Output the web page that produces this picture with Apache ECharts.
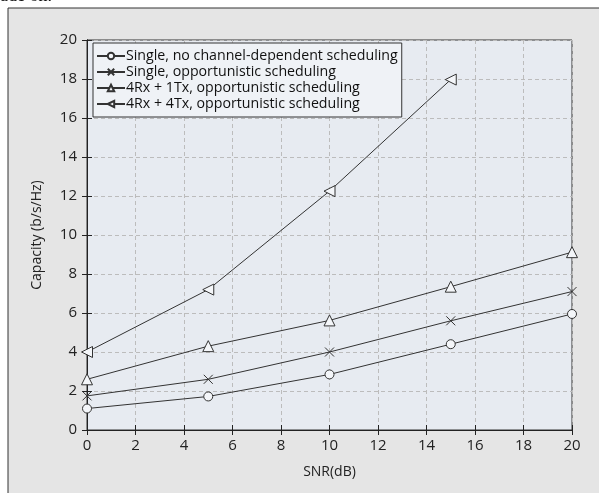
<!DOCTYPE html>
<html><head><meta charset="utf-8">
<script src="https://cdn.jsdelivr.net/npm/echarts@6/dist/echarts.min.js"></script>
<style>html,body{margin:0;padding:0;background:#fff;}#c{width:599px;height:493px;}</style>
</head><body><div id="c"></div>
<script>
const snr = [0, 5, 10, 15, 20];
const noSched = [1.1, 1.72, 2.85, 4.4, 5.95];
const singleOpp = [1.75, 2.6, 4.0, 5.6, 7.1];
const rx4tx1 = [2.6, 4.3, 5.62, 7.35, 9.12];
const rx4tx4 = [4.0, 7.2, 12.25, 17.97];
const names = ['Single, no channel-dependent scheduling','Single, opportunistic scheduling','4Rx + 1Tx, opportunistic scheduling','4Rx + 4Tx, opportunistic scheduling'];
const xTicks = [0,2,4,6,8,10,12,14,16,18,20];
const yTicks = [0,2,4,6,8,10,12,14,16,18,20];

const pairs = (ys) => ys.map((v, i) => [snr[i], v]);
const lineC = '#333';
const font = 'Open Sans';
const chart = echarts.init(document.getElementById('c'));
function mk(name, data, symbol, rot, size) {
  return {
    name, type: 'line', data, symbol, symbolSize: size, symbolRotate: rot || 0,
    showAllSymbol: true,
    lineStyle: {color: lineC, width: 1},
    itemStyle: {color: symbol.startsWith('path') ? lineC : '#f4f6f9', borderColor: lineC, borderWidth: 1},
    emphasis: {disabled: true}, z: 5
  };
}
chart.setOption({
  animation: false,
  backgroundColor: '#fff',
  graphic: [
    {type: 'rect', shape: {x: 8, y: 8, width: 700, height: 600}, style: {fill: '#e5e5e5', stroke: '#333', lineWidth: 1}, z: -10},
    {type: 'text', left: 0, top: -13, style: {text: 'ade on.', font: '18px "Liberation Serif"', fill: '#111'}}
  ],
  grid: {left: 87, right: 27, top: 40, bottom: 63, show: true, backgroundColor: '#e7ebf1', borderColor: '#333', borderWidth: 1},
  legend: {
    orient: 'vertical', left: 93, top: 43,
    data: names,
    backgroundColor: '#eff2f6', borderColor: '#333', borderWidth: 1,
    padding: [5, 4, 5, 3], itemGap: 0, itemWidth: 28, itemHeight: 8,
    textStyle: {fontFamily: font, fontSize: 14.2, color: '#111', lineHeight: 16, padding: [0,0,0,-4]},
    selectedMode: false
  },
  xAxis: [{
    type: 'value', min: 0, max: 20, interval: 2,
    name: 'SNR(dB)', nameLocation: 'middle', nameGap: 35,
    nameTextStyle: {fontFamily: font, fontSize: 14, color: '#222'},
    axisLine: {lineStyle: {color: '#222'}},
    axisTick: {inside: true, length: 5, lineStyle: {color: '#222'}},
    axisLabel: {fontFamily: font, fontSize: 15, color: '#222', margin: 8,
      formatter: v => xTicks.includes(v) ? String(v) : ''},
    splitLine: {lineStyle: {color: '#bcbcbc', type: [4, 3]}}
  }, {
    type: 'value', min: 0, max: 20, interval: 2, position: 'top',
    axisLine: {show: true, lineStyle: {color: '#222'}},
    axisTick: {show: true, inside: true, length: 5, lineStyle: {color: '#222'}},
    axisLabel: {show: false}, splitLine: {show: false}
  }],
  yAxis: [{
    type: 'value', min: 0, max: 20, interval: 2,
    name: 'Capacity (b/s/Hz)', nameLocation: 'middle', nameGap: 43,
    nameTextStyle: {fontFamily: font, fontSize: 14, color: '#222'},
    axisLine: {show: true, lineStyle: {color: '#222'}},
    axisTick: {show: true, inside: true, length: 5, lineStyle: {color: '#222'}},
    axisLabel: {fontFamily: font, fontSize: 15, color: '#222', margin: 10,
      formatter: v => yTicks.includes(v) ? String(v) : ''},
    splitLine: {lineStyle: {color: '#bcbcbc', type: [4, 3]}}
  }, {
    type: 'value', min: 0, max: 20, interval: 2, position: 'right',
    axisLine: {show: true, lineStyle: {color: '#222'}},
    axisTick: {show: true, inside: true, length: 5, lineStyle: {color: '#222'}},
    axisLabel: {show: false}, splitLine: {show: false}
  }],
  series: [
    mk(names[0], pairs(noSched), 'circle', 0, 9),
    mk(names[1], pairs(singleOpp), 'path://M0,0L10,10M10,0L0,10', 0, 9),
    mk(names[2], pairs(rx4tx1), 'triangle', 0, 11),
    mk(names[3], pairs(rx4tx4), 'triangle', 90, 11)
  ]
});
</script></body></html>
